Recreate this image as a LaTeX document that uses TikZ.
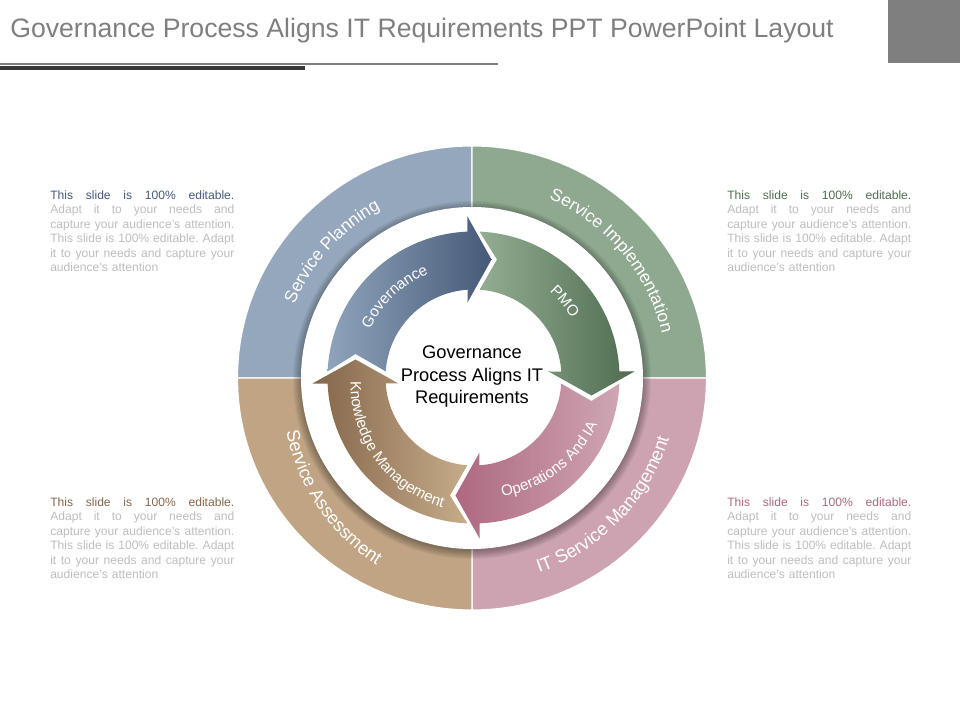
\documentclass[tikz,border=0pt]{standalone}
\usepackage{fontspec}
\setmainfont{Liberation Sans}
\usetikzlibrary{decorations.text}
\definecolor{ringblue}{HTML}{94A7BC}
\definecolor{ringgreen}{HTML}{8EA98F}
\definecolor{ringrose}{HTML}{CDA3B1}
\definecolor{ringtan}{HTML}{C0A484}
\definecolor{bluelight}{HTML}{8FA4BB}
\definecolor{bluedark}{HTML}{465A78}
\definecolor{greenlight}{HTML}{93AD93}
\definecolor{greendark}{HTML}{4F6C50}
\definecolor{roselight}{HTML}{CFA6B3}
\definecolor{rosedark}{HTML}{AD687F}
\definecolor{tanlight}{HTML}{C6AC8A}
\definecolor{tandark}{HTML}{84664A}
\definecolor{notegray}{HTML}{BDBDBD}
\definecolor{titlegray}{HTML}{7F7F7F}
\newcommand\ringfont{\fontsize{12.4}{15}\selectfont}
\newcommand\ringwidefont{\fontsize{13}{15}\selectfont}
\newcommand\flowfont{\fontsize{10.8}{12}\selectfont}
\newcommand\noteline[1]{\hbox to 4.6cm{\frenchspacing\spaceskip=.278em plus 1fil minus .08em\relax #1}}
\newcommand\editnote[1]{\noteline{\textcolor{#1}{This slide is 100\% editable.}}
\noteline{Adapt it to your needs and}
\noteline{capture your audience's attention.}
\noteline{This slide is 100\% editable. Adapt}
\noteline{it to your needs and capture your}
\hbox{audience's attention}}
\tikzset{
  ringlabel/.style={decorate,decoration={text along path,text color=white,text align=center,text={|\ringfont|#1}}},
  ringwide/.style={decorate,decoration={text along path,text color=white,text align=center,text={|\ringwidefont|#1}}},
  flowlabel/.style={decorate,decoration={text along path,text color=white,text align=center,text={|\flowfont|#1}}},
  sidenote/.style={anchor=north west,inner sep=0pt,text width=4.6cm,text=notegray,
    font=\fontsize{8.6}{10.35}\selectfont}
}
\begin{document}
\begin{tikzpicture}[scale=0.025]
\useasboundingbox (-472,-342) rectangle (488,378);
% title and rules
\node[anchor=base west,inner sep=0pt,text=titlegray,font=\fontsize{18.95}{22}\selectfont] (title) at (-462,340)
  {Governance Process Aligns IT Requirements PPT PowerPoint Layout};
\fill[titlegray] (416,378) rectangle (488,315);
\fill[titlegray] (-472,315.2) rectangle (26,313.4);
\fill[black!78] (-472,311.8) rectangle (-167,308);
% outer ring
\foreach \ang/\col in {90/ringblue,0/ringgreen,-90/ringrose,180/ringtan}
\filldraw[fill=\col,draw=white,line width=.8pt] (\ang:234.5 and 232)
  arc[start angle=\ang,end angle=\ang+90,x radius=234.5,y radius=232]
  -- (\ang+90:165) arc[start angle=\ang+90,end angle=\ang,radius=165] -- cycle;
% shadow of the white disc
\foreach \r in {179,178,...,171}
\fill[black,opacity=.04] (0,-2) circle (\r);
\fill[white] (0,0) circle (171);
% inner arrows
\foreach \rot/\lc/\rc in {0/bluelight/bluedark,-90/greenlight/greendark,-180/rosedark/roselight,-270/tandark/tanlight}
\shade[shift={(1.5,.5)},rotate=\rot,left color=\lc,right color=\rc] (177.6:146)
  arc[start angle=177.6,end angle=92.4,radius=146]
  -- (-6,161) -- (18,118) -- (-6,75) -- (93.9:88)
  arc[start angle=93.9,end angle=176,radius=88]
  -- (-118,23.5) -- cycle;
% labels on the ring
\path[ringlabel=Service Planning] (183:192) arc[start angle=183,end angle=93,radius=192];
\path[ringlabel=Service Implementation] (85:195) arc[start angle=85,end angle=-5,radius=195];
\path[ringwide=IT Service Management] (-89:206) arc[start angle=-89,end angle=1,radius=206];
\path[shift={(14,-16)},ringwide=Service Assessment] (169:203) arc[start angle=169,end angle=259,radius=203];
% labels on the arrows
\path[flowlabel=Governance] (178.5:113) arc[start angle=178.5,end angle=88.5,radius=113];
\path[flowlabel=PMO] (84.5:116) arc[start angle=84.5,end angle=-5.5,radius=116];
\path[shift={(9,8)},flowlabel=Operations And IA] (-97.8:128.5) arc[start angle=-97.8,end angle=-7.8,radius=128.5];
\path[shift={(5.7,-7.2)},flowlabel=Knowledge Management] (171:127) arc[start angle=171,end angle=261,radius=127];
% centre text
\node[align=center,inner sep=0pt,text=black,font=\fontsize{13}{16}\selectfont] (centre) at (0,1)
  {Governance\\Process Aligns IT\\Requirements};
% side notes
\node[sidenote] (noteplan) at (-422,188) {\editnote{bluedark}};
\node[sidenote] (noteimpl) at (255,188) {\editnote{greendark}};
\node[sidenote] (noteasse) at (-422,-119) {\editnote{tandark}};
\node[sidenote] (noteserv) at (255,-119) {\editnote{rosedark}};
\end{tikzpicture}
\end{document}
